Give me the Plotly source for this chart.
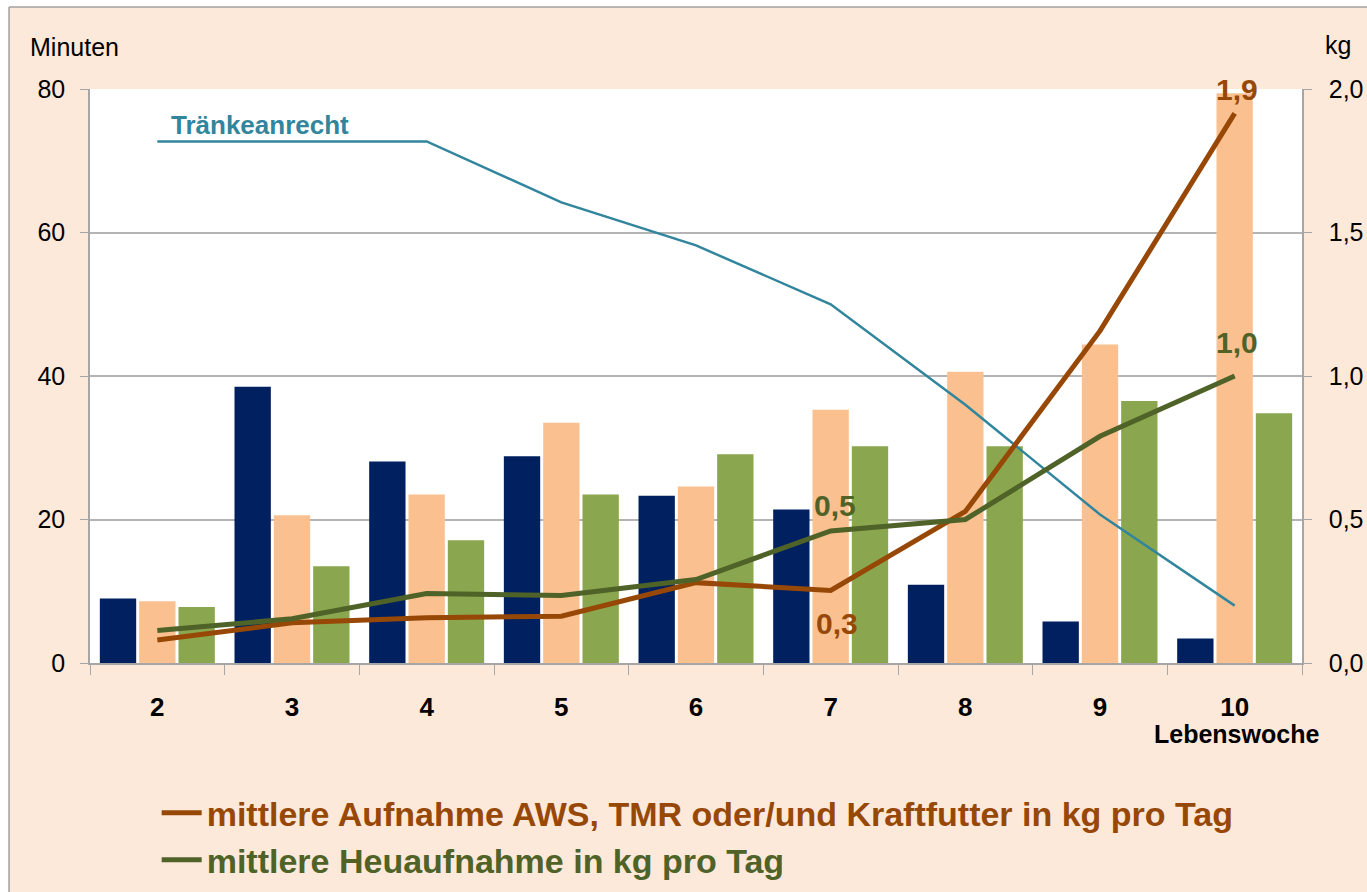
import plotly.graph_objects as go

# ---------------- data ----------------
weeks = ["2", "3", "4", "5", "6", "7", "8", "9", "10"]

# bars (Minuten, left axis)
bar_navy = [9.0, 38.5, 28.1, 28.8, 23.3, 21.4, 10.9, 5.8, 3.4]
bar_peach = [8.6, 20.6, 23.5, 33.5, 24.6, 35.3, 40.6, 44.4, 79.4]
bar_green = [7.8, 13.5, 17.1, 23.5, 29.1, 30.2, 30.2, 36.5, 34.8]

# lines
traenke = [72.7, 72.7, 72.7, 64.2, 58.2, 50.0, 36.0, 20.7, 8.0]          # left axis
aws_tmr = [0.08, 0.14, 0.158, 0.163, 0.28, 0.253, 0.528, 1.157, 1.915]   # kg, right axis
heu = [0.113, 0.154, 0.242, 0.235, 0.291, 0.46, 0.50, 0.79, 1.0]         # kg, right axis

left_ticks = [0, 20, 40, 60, 80]
right_ticks = [0, 0.5, 1.0, 1.5, 2.0]
right_ticktext = ["0,0", "0,5", "1,0", "1,5", "2,0"]

name_aws = "mittlere Aufnahme AWS, TMR oder/und Kraftfutter in kg pro Tag"
name_heu = "mittlere Heuaufnahme in kg pro Tag"

# ---------------- style ----------------
C_NAVY = "#002060"
C_PEACH = "#FAC090"
C_GREEN = "#8AA64E"
C_ORANGE = "#974806"
C_DKGREEN = "#4F6228"
C_BLUE = "#31859C"
BG = "#FDE9D9"
GRID = "#B4B4B4"
FONT = "Liberation Sans, Arial, sans-serif"

fig = go.Figure()

for vals, col in [(bar_navy, C_NAVY), (bar_peach, C_PEACH), (bar_green, C_GREEN)]:
    fig.add_trace(go.Bar(x=weeks, y=vals, marker=dict(color=col, line=dict(width=0)),
                         showlegend=False, yaxis="y"))

fig.add_trace(go.Scatter(x=weeks, y=traenke, mode="lines", line=dict(color=C_BLUE, width=2.5),
                         showlegend=False, yaxis="y"))

fig.add_trace(go.Scatter(x=weeks, y=aws_tmr, mode="lines", line=dict(color=C_ORANGE, width=5),
                         name=f"<span style='color:{C_ORANGE}'><b>{name_aws}</b></span>",
                         yaxis="y2"))
fig.add_trace(go.Scatter(x=weeks, y=heu, mode="lines", line=dict(color=C_DKGREEN, width=5),
                         name=f"<span style='color:{C_DKGREEN}'><b>{name_heu}</b></span>",
                         yaxis="y2"))

def fmt(v):
    return f"{v:.1f}".replace(".", ",")

annotations = []
# data labels (x given as category index)
for series, idx, col, ys, xs in [(aws_tmr, 5, C_ORANGE, -33, 6), (aws_tmr, 8, C_ORANGE, 24, 2),
                                 (heu, 5, C_DKGREEN, 25, 4), (heu, 8, C_DKGREEN, 34, 2)]:
    annotations.append(dict(x=idx, y=series[idx], xref="x", yref="y2", text=f"<b>{fmt(series[idx])}</b>",
                            showarrow=False, font=dict(size=30, color=col, family=FONT),
                            yshift=ys, xshift=xs))
# Tränkeanrecht label
annotations.append(dict(x=0, y=traenke[0], xref="x", yref="y", text="<b>Tränkeanrecht</b>",
                        showarrow=False, xanchor="left", yanchor="middle", xshift=12, yshift=16,
                        font=dict(size=26, color=C_BLUE, family=FONT)))
# axis titles
annotations.append(dict(x=-0.051, y=1.073, xref="paper", yref="paper", text="Minuten", showarrow=False,
                        xanchor="left", yanchor="middle", font=dict(size=25, color="black", family=FONT)))
annotations.append(dict(x=1.017, y=1.076, xref="paper", yref="paper", text="kg", showarrow=False,
                        xanchor="left", yanchor="middle", font=dict(size=25, color="black", family=FONT)))
annotations.append(dict(x=1.016, y=-0.124, xref="paper", yref="paper", text="<b>Lebenswoche</b>",
                        showarrow=False, xanchor="right", yanchor="middle",
                        font=dict(size=25, color="black", family=FONT)))

shapes = [
    # white strips outside the slide border
    dict(type="rect", xref="paper", yref="paper", x0=-0.2, x1=-0.0668, y0=-0.5, y1=1.3,
         fillcolor="white", line=dict(width=0), layer="below"),
    dict(type="rect", xref="paper", yref="paper", x0=-0.2, x1=1.2, y0=1.1427, y1=1.3,
         fillcolor="white", line=dict(width=0), layer="below"),
    # border lines
    dict(type="line", xref="paper", yref="paper", x0=-0.0668, x1=-0.0668, y0=-0.5, y1=1.1427,
         line=dict(color="#A0A0A0", width=1.5)),
    dict(type="line", xref="paper", yref="paper", x0=-0.0668, x1=1.2, y0=1.1427, y1=1.1427,
         line=dict(color="#A0A0A0", width=1.5)),
]

fig.update_layout(
    width=1367, height=892,
    margin=dict(l=90, r=65, t=89, b=228.5),
    paper_bgcolor=BG, plot_bgcolor="white",
    font=dict(family=FONT, color="black"),
    barmode="group", bargap=0.124, bargroupgap=0.076,
    xaxis=dict(type="category", range=[-0.5, len(weeks) - 0.5], showline=True, linecolor="#A6A6A6",
               linewidth=1.5, ticks="outside", tickson="boundaries", ticklen=10, tickcolor="#A6A6A6",
               tickfont=dict(size=26, family=FONT, color="black", weight="bold"),
               ticklabelstandoff=20, showgrid=False, zeroline=False, automargin=False),
    yaxis=dict(range=[0, 80], tickvals=left_ticks, showline=True, linecolor="#A6A6A6", linewidth=1.5,
               ticks="outside", ticklen=8, tickcolor="#A6A6A6", showgrid=True, gridcolor=GRID,
               gridwidth=1.5, zeroline=False, tickfont=dict(size=25, family=FONT, color="black"),
               ticklabelstandoff=10, automargin=False),
    yaxis2=dict(range=[0, 2], overlaying="y", side="right", tickvals=right_ticks, ticktext=right_ticktext,
                showline=True, linecolor="#A6A6A6", linewidth=1.5, ticks="outside", ticklen=8,
                tickcolor="#A6A6A6", showgrid=False, zeroline=False,
                tickfont=dict(size=25, family=FONT, color="black"), ticklabelstandoff=12, automargin=False),
    legend=dict(x=0.055, xref="paper", y=0.121, yref="container", xanchor="left", yanchor="top",
                orientation="v", bgcolor="rgba(0,0,0,0)", font=dict(size=34, family=FONT),
                itemwidth=40, tracegroupgap=0),
    annotations=annotations,
    shapes=shapes,
)

fig.write_html("out.html", config={"displayModeBar": False},
               post_script="document.body.style.margin='0';document.body.style.overflow='hidden';")
